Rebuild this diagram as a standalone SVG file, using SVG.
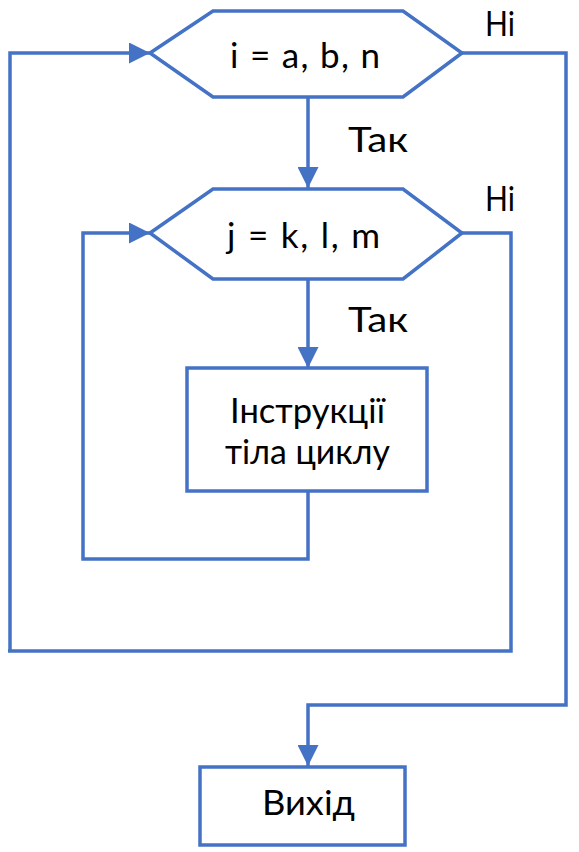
<svg xmlns="http://www.w3.org/2000/svg" width="579" height="852" viewBox="0 0 579 852">
<style>
.s{fill:#fff;stroke:#4472C4;stroke-width:3.5}
.c{fill:none;stroke:#4472C4;stroke-width:3.5}
.t{font-family:Lato,"Open Sans",sans-serif;font-size:35px;fill:#000}
</style>
<defs>
<marker id="a" viewBox="0 0 10 10" refX="10" refY="5" markerWidth="6" markerHeight="6" orient="auto" markerUnits="strokeWidth">
<path d="M0,0 L10,5 L0,10 z" fill="#4472C4"/>
</marker>
</defs>
<g id="connectors">
<path class="c" d="M10,651 L10,53 L150,53" marker-end="url(#a)"/>
<path class="c" d="M462,53 L566,53 L566,705 L308,705 L308,766" marker-end="url(#a)"/>
<path class="c" d="M308,97 L308,188" marker-end="url(#a)"/>
<path class="c" d="M462,233 L511,233 L511,651 L8,651"/>
<path class="c" d="M308,279 L308,368" marker-end="url(#a)"/>
<path class="c" d="M308,491 L308,559 L83,559 L83,233 L150,233" marker-end="url(#a)"/>
<text class="t" x="485" y="36" textLength="30" lengthAdjust="spacingAndGlyphs">Ні</text>
<text class="t" x="348" y="152" textLength="60" lengthAdjust="spacingAndGlyphs">Так</text>
<text class="t" x="485" y="211" textLength="30" lengthAdjust="spacingAndGlyphs">Ні</text>
<text class="t" x="348" y="332" textLength="60" lengthAdjust="spacingAndGlyphs">Так</text>
</g>
<g id="loop-i">
<polygon class="s" points="150,53 213,11 403,11 462,53 403,97 213,97"/>
<text class="t" x="230" y="68" textLength="150" lengthAdjust="spacing">i = a, b, n</text>
</g>
<g id="loop-j">
<polygon class="s" points="150,233 213,189 403,189 462,233 403,279 213,279"/>
<text class="t" x="227" y="248" textLength="153" lengthAdjust="spacing">j = k, l, m</text>
</g>
<g id="body">
<rect class="s" x="187" y="368" width="240" height="123"/>
<text class="t" x="230" y="423" textLength="155" lengthAdjust="spacingAndGlyphs">Інструкції</text>
<text class="t" x="225" y="464" textLength="165" lengthAdjust="spacingAndGlyphs">тіла циклу</text>
</g>
<g id="exit">
<rect class="s" x="200" y="767" width="205" height="78"/>
<text class="t" x="262" y="815" textLength="93" lengthAdjust="spacingAndGlyphs">Вихід</text>
</g>
</svg>
